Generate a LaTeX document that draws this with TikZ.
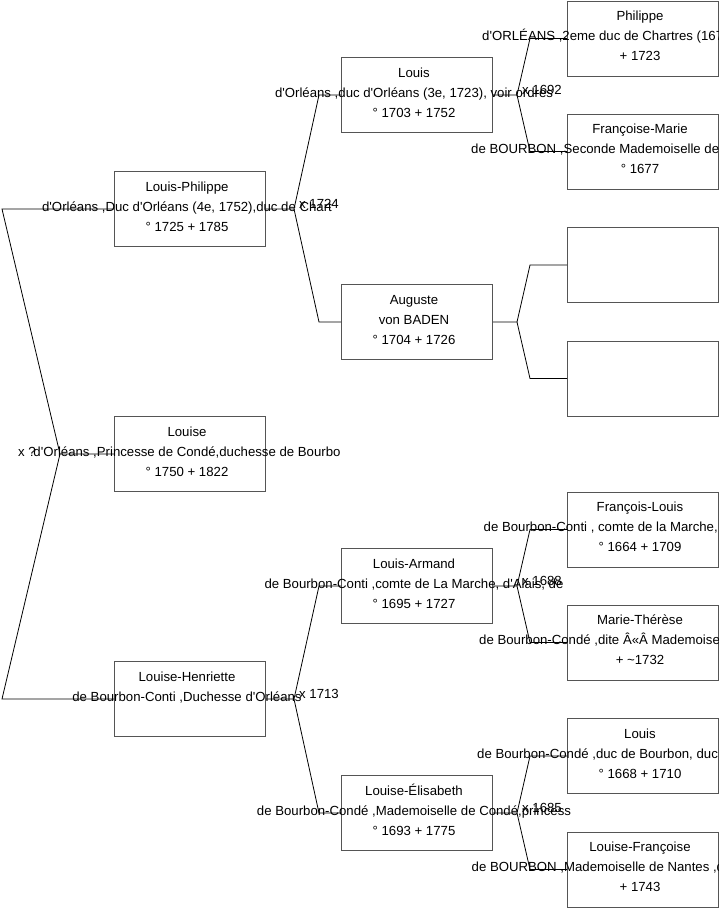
\documentclass[tikz,border=0pt]{standalone}
\usepackage{fontspec}
\setmainfont{Liberation Sans}[Ligatures=TeXOff]
\definecolor{bordo}{RGB}{85,85,85}
\tikzset{
  riquadro/.style={draw=bordo,line width=1pt,minimum width=151pt,minimum height=75pt,inner sep=0pt,anchor=north west},
  riga/.style={anchor=base,inner sep=0pt,font=\fontsize{13.2}{15}\selectfont},
  legame/.style={line width=0.8pt},
  nozze/.style={anchor=base west,inner sep=0pt,font=\fontsize{13.2}{15}\selectfont}
}
% tre righe di testo dentro un riquadro
\newcommand{\righe}[5][]{%
  \node[riga] (#2-a) at ([xshift=-3pt,yshift=18pt]#2.center) {#3};
  \node[riga,#1] (#2-b) at ([xshift=-3pt,yshift=-2pt]#2.center) {#4};
  \node[riga] (#2-c) at ([xshift=-3pt,yshift=-22pt]#2.center) {#5};}
\begin{document}
\begin{tikzpicture}[x=1pt,y=-1pt]
\useasboundingbox (0,0) rectangle (719,908);
%generazione 1
\node[riquadro] (lp) at (114,171) {};
\node[riquadro] (lse) at (114,416) {};
\node[riquadro] (lh) at (114,661) {};
%generazione 2
\node[riquadro] (lou) at (341,57) {};
\node[riquadro] (aug) at (341,284) {};
\node[riquadro] (la) at (341,548) {};
\node[riquadro] (le) at (341,775) {};
%generazione 3
\node[riquadro] (phi) at (567,0.5) {};
\node[riquadro] (fm) at (567,113.5) {};
\node[riquadro] (v1) at (567,227) {};
\node[riquadro] (v2) at (567,340.5) {};
\node[riquadro] (fl) at (567,491.5) {};
\node[riquadro] (mt) at (567,604.5) {};
\node[riquadro] (lb) at (567,718) {};
\node[riquadro] (lf) at (567,831.5) {};
%testi
\righe{lp}{Louis-Philippe}{d'Orléans ,Duc d'Orléans (4e, 1752),duc de Chart}{° 1725 + 1785}
\righe{lse}{Louise}{d'Orléans ,Princesse de Condé,duchesse de Bourbo}{° 1750 + 1822}
\righe{lh}{Louise-Henriette}{de Bourbon-Conti ,Duchesse d'Orléans}{}
\righe{lou}{Louis}{d'Orléans ,duc d'Orléans (3e, 1723), voir ordres}{° 1703 + 1752}
\righe{aug}{Auguste}{von BADEN}{° 1704 + 1726}
\righe{la}{Louis-Armand}{de Bourbon-Conti ,comte de La Marche, d'Alais, de}{° 1695 + 1727}
\righe{le}{Louise-Élisabeth}{de Bourbon-Condé ,Mademoiselle de Condé,princess}{° 1693 + 1775}
\righe[anchor=base west,xshift=-158pt]{phi}{Philippe}{d'ORLÉANS ,2eme duc de Chartres (1674),Duc d'Orl}{+ 1723}
\righe[anchor=base west,xshift=-169pt]{fm}{Françoise-Marie}{de BOURBON ,Seconde Mademoiselle de Blois,duchess}{° 1677}
\righe[anchor=base west,xshift=-156.5pt]{fl}{François-Louis}{de Bourbon-Conti , comte de la Marche, prince d}{° 1664 + 1709}
\righe[anchor=base west,xshift=-161pt]{mt}{Marie-Thérèse}{de Bourbon-Condé ,dite Â«Â Mademoiselle de Condé}{+ \textasciitilde1732}
\righe[anchor=base west,xshift=-163pt]{lb}{Louis}{de Bourbon-Condé ,duc de Bourbon, duc d'Enghien,}{° 1668 + 1710}
\righe[anchor=base west,xshift=-168.5pt]{lf}{Louise-Françoise}{de BOURBON ,Mademoiselle de Nantes ,duchesse de}{+ 1743}
%legami a sinistra
\draw[legame] (lse.west) -- ++(-54,0) coordinate (j0) -- ([xshift=-112pt]lp.west) -- (lp.west);
\draw[legame] (j0) -- ([xshift=-112pt]lh.west) -- (lh.west);
%legami generazione 1-2
\draw[legame] (lp.east) -- ++(28,0) coordinate (j1) -- ([xshift=-22pt]lou.west) -- (lou.west);
\draw[legame] (j1) -- ([xshift=-22pt]aug.west) -- (aug.west);
\draw[legame] (lh.east) -- ++(28,0) coordinate (j2) -- ([xshift=-22pt]la.west) -- (la.west);
\draw[legame] (j2) -- ([xshift=-22pt]le.west) -- (le.west);
%legami generazione 2-3
\draw[legame] (lou.east) -- ++(24,0) coordinate (j3) -- ([xshift=-37pt]phi.west) -- (phi.west);
\draw[legame] (j3) -- ([xshift=-37pt]fm.west) -- (fm.west);
\draw[legame] (aug.east) -- ++(24,0) coordinate (j4) -- ([xshift=-37pt]v1.west) -- (v1.west);
\draw[legame] (j4) -- ([xshift=-37pt]v2.west) -- (v2.west);
\draw[legame] (la.east) -- ++(24,0) coordinate (j5) -- ([xshift=-37pt]fl.west) -- (fl.west);
\draw[legame] (j5) -- ([xshift=-37pt]mt.west) -- (mt.west);
\draw[legame] (le.east) -- ++(24,0) coordinate (j6) -- ([xshift=-37pt]lb.west) -- (lb.west);
\draw[legame] (j6) -- ([xshift=-37pt]lf.west) -- (lf.west);
%matrimoni
\node[nozze] (m0) at ([xshift=-42pt,yshift=-2pt]j0) {x ?};
\node[nozze] (m1) at ([xshift=5pt,yshift=1pt]j1) {x 1724};
\node[nozze] (m2) at ([xshift=5pt,yshift=1pt]j2) {x 1713};
\node[nozze] (m3) at ([xshift=5pt,yshift=1pt]j3) {x 1692};
\node[nozze] (m5) at ([xshift=5pt,yshift=1pt]j5) {x 1688};
\node[nozze] (m6) at ([xshift=5pt,yshift=1pt]j6) {x 1685};
\end{tikzpicture}
\end{document}
